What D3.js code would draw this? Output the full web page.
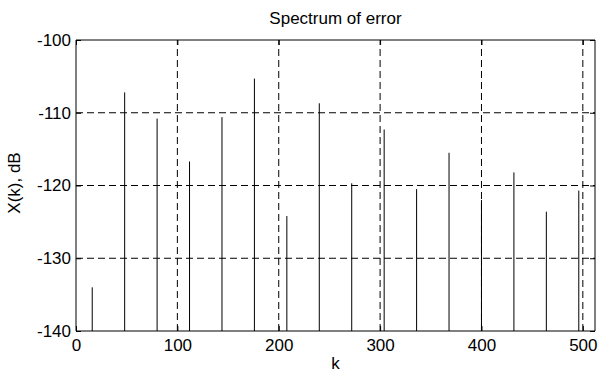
<!DOCTYPE html>
<html>
<head>
<meta charset="utf-8">
<script src="https://cdn.jsdelivr.net/npm/d3@7"></script>
<style>
  body { margin: 0; background: #fff; }
  text { font-family: "Liberation Sans", Arial, sans-serif; fill: #000; }
</style>
</head>
<body>
<div id="chart"></div>
<script>
const bins = [16, 48, 80, 112, 144, 176, 208, 240, 272, 304, 336, 368, 400, 432, 464, 496];
const levels = [-134.0, -107.2, -110.8, -116.7, -110.6, -105.3, -124.2, -108.7,
                -119.7, -112.3, -120.5, -115.5, -122.0, -118.2, -123.6, -120.7];
const xTicks = [0, 100, 200, 300, 400, 500];
const yTicks = [-140, -130, -120, -110, -100];

let width = 598, height = 374;
let margin = {top: 40, right: 3, bottom: 43, left: 76};

let svg = d3.select('#chart')
  .append('svg')
  .attr('width', width)
  .attr('height', height);

let x = d3.scaleLinear().domain([0, 512]).range([margin.left, width - margin.right]);
let y = d3.scaleLinear().domain([-140, -100]).range([height - margin.bottom, margin.top]);

// dashed grid
svg.append('g')
  .selectAll('line')
  .data(xTicks.slice(1))
  .join('line')
    .attr('x1', d => x(d)).attr('x2', d => x(d))
    .attr('y1', y(-140)).attr('y2', y(-100))
    .attr('stroke', '#000')
    .attr('stroke-dasharray', '7,4');

svg.append('g')
  .selectAll('line')
  .data(yTicks.slice(1, -1))
  .join('line')
    .attr('x1', x(0)).attr('x2', x(512))
    .attr('y1', d => y(d)).attr('y2', d => y(d))
    .attr('stroke', '#000')
    .attr('stroke-dasharray', '7,4');

// stems
svg.append('g')
  .selectAll('line')
  .data(bins.map((k, i) => ({k: k, v: levels[i]})))
  .join('line')
    .attr('x1', d => x(d.k)).attr('x2', d => x(d.k))
    .attr('y1', y(-140)).attr('y2', d => y(d.v))
    .attr('stroke', '#000')
    .attr('stroke-width', 1);

// axes, ticks inward on all four sides
let xAxisBottom = d3.axisBottom(x).tickValues(xTicks).tickSize(-5).tickPadding(8).tickFormat(d3.format('d'));
let xAxisTop = d3.axisTop(x).tickValues(xTicks).tickSize(-5).tickFormat('');
let yAxisLeft = d3.axisLeft(y).tickValues(yTicks).tickSize(-5).tickPadding(5).tickFormat(d => String(d));
let yAxisRight = d3.axisRight(y).tickValues(yTicks).tickSize(-5).tickFormat('');

function style(g) {
  g.select('.domain').attr('stroke', '#000');
  g.selectAll('.tick line').attr('stroke', '#000');
  g.selectAll('text').attr('font-size', 17).attr('font-family', '"Liberation Sans", Arial, sans-serif');
}

svg.append('g').attr('transform', `translate(0,${y(-140)})`).call(xAxisBottom).call(style)
  .call(g => g.select('.domain').attr('d', `M${x(0)},0H${x(512)}`));
svg.append('g').attr('transform', `translate(0,${y(-100)})`).call(xAxisTop).call(style)
  .call(g => g.select('.domain').attr('d', `M${x(0)},0H${x(512)}`));
svg.append('g').attr('transform', `translate(${x(0)},0)`).call(yAxisLeft).call(style)
  .call(g => g.select('.domain').attr('d', `M0,${y(-140)}V${y(-100)}`));
svg.append('g').attr('transform', `translate(${x(512)},0)`).call(yAxisRight).call(style)
  .call(g => g.select('.domain').attr('d', `M0,${y(-140)}V${y(-100)}`));

svg.append('text')
  .attr('x', (x(0) + x(512)) / 2)
  .attr('y', 24)
  .attr('text-anchor', 'middle')
  .attr('font-size', 17)
  .text('Spectrum of error');

svg.append('text')
  .attr('x', (x(0) + x(512)) / 2)
  .attr('y', 369)
  .attr('text-anchor', 'middle')
  .attr('font-size', 17)
  .text('k');

svg.append('text')
  .attr('transform', 'translate(20,183) rotate(-90)')
  .attr('text-anchor', 'middle')
  .attr('font-size', 17)
  .text('X(k), dB');
</script>
</body>
</html>
